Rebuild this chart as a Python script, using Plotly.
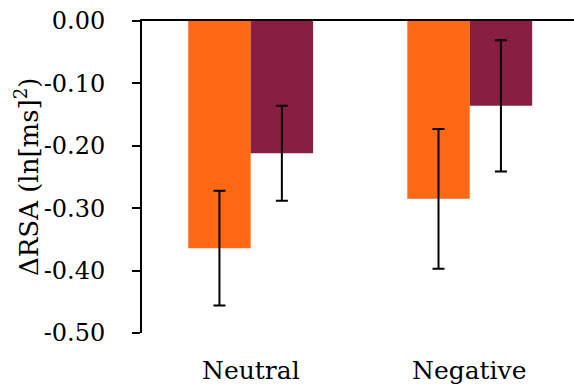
import plotly.graph_objects as go

# Mean change in RSA per condition, with error bar half-widths
categories = ["Neutral", "Negative"]
series_a = [-0.364, -0.285]
series_a_err = [0.092, 0.112]
series_b = [-0.212, -0.136]
series_b_err = [0.076, 0.105]
y_ticks = [0.0, -0.1, -0.2, -0.3, -0.4, -0.5]
y_tick_labels = ["0.00", "-0.10", "-0.20", "-0.30", "-0.40", "-0.50"]

SERIF = "DejaVu Serif"
ORANGE = "#FF6914"
PLUM = "#891E43"

err_style = dict(type="data", visible=True, color="black", thickness=2, width=6)

fig = go.Figure()
fig.add_trace(go.Bar(
    x=categories, y=series_a, marker=dict(color=ORANGE, line=dict(width=0)),
    error_y=dict(array=series_a_err, **err_style), showlegend=False,
))
fig.add_trace(go.Bar(
    x=categories, y=series_b, marker=dict(color=PLUM, line=dict(width=0)),
    error_y=dict(array=series_b_err, **err_style), showlegend=False,
))

# category names below the plot
for c in categories:
    fig.add_annotation(
        x=c, xref="x", y=-0.5, yref="y", yshift=-37, yanchor="middle",
        text=c, showarrow=False, font=dict(family=SERIF, size=25, color="black"),
    )

# rotated y-axis title, placed by pixel offset from the plot's left edge
fig.add_annotation(
    x=(27 - 142) / 432, xref="paper", y=0.5, yref="paper",
    text="ΔRSA (ln[ms]<sup>2</sup>)",
    textangle=-90, showarrow=False, xanchor="center", yanchor="middle",
    font=dict(family=SERIF, size=26, color="black"),
)

fig.update_layout(
    width=574, height=392,
    margin=dict(l=142, r=0, t=21, b=59),
    paper_bgcolor="white", plot_bgcolor="white",
    font=dict(family=SERIF, color="black"),
    barmode="group", bargap=0.43, bargroupgap=0,
    xaxis=dict(
        type="category", range=[-0.496, 1.476], side="top",
        showline=True, linecolor="black", linewidth=2,
        showticklabels=False, ticks="", showgrid=False, zeroline=False,
    ),
    yaxis=dict(
        range=[-0.5, 0.0], tickvals=y_ticks, ticktext=y_tick_labels,
        showline=True, linecolor="black", linewidth=2,
        ticks="outside", ticklen=8, tickwidth=2, tickcolor="black",
        ticklabelstandoff=22,
        tickfont=dict(family=SERIF, size=24, color="black"),
        showgrid=False, zeroline=False,
    ),
)

fig.write_html("out.html")
